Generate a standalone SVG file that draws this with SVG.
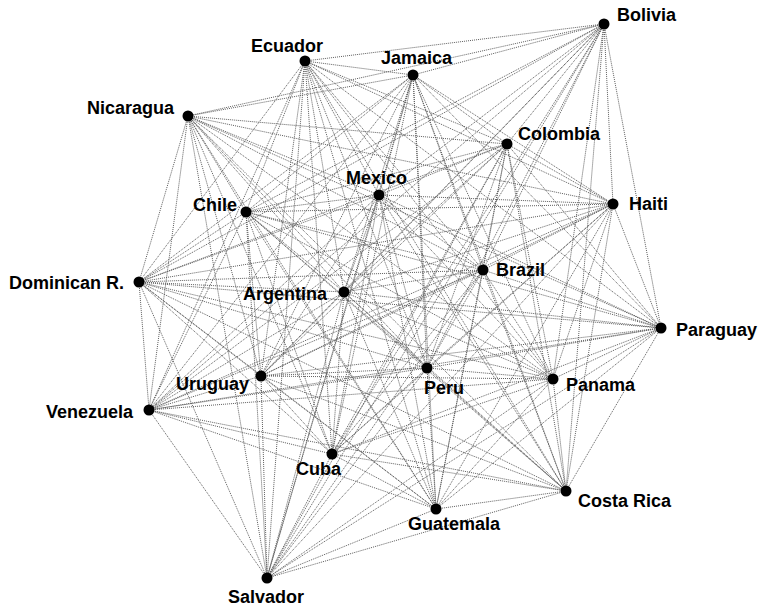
<svg xmlns="http://www.w3.org/2000/svg" width="760" height="608" viewBox="0 0 760 608">
<style>
.e{stroke:#5e5e5e;stroke-width:1;stroke-dasharray:1 1;fill:none}
.n{fill:#000}
.t{font-family:"Liberation Sans",Arial,sans-serif;font-weight:bold;font-size:18px;fill:#000}
</style>
<rect width="760" height="608" fill="#fff"/>
<g id="connectors">
<line class="e" x1="604" y1="24" x2="305" y2="61"/>
<line class="e" x1="604" y1="24" x2="413" y2="75"/>
<line class="e" x1="604" y1="24" x2="188" y2="116"/>
<line class="e" x1="604" y1="24" x2="507" y2="144"/>
<line class="e" x1="604" y1="24" x2="379" y2="195"/>
<line class="e" x1="604" y1="24" x2="613" y2="204"/>
<line class="e" x1="604" y1="24" x2="246" y2="212"/>
<line class="e" x1="604" y1="24" x2="483" y2="270"/>
<line class="e" x1="604" y1="24" x2="139" y2="282"/>
<line class="e" x1="604" y1="24" x2="344" y2="292"/>
<line class="e" x1="604" y1="24" x2="661" y2="328"/>
<line class="e" x1="604" y1="24" x2="261" y2="376"/>
<line class="e" x1="604" y1="24" x2="427" y2="368"/>
<line class="e" x1="604" y1="24" x2="553" y2="379"/>
<line class="e" x1="604" y1="24" x2="149" y2="410"/>
<line class="e" x1="604" y1="24" x2="332" y2="454"/>
<line class="e" x1="604" y1="24" x2="566" y2="491"/>
<line class="e" x1="604" y1="24" x2="267" y2="578"/>
<line class="e" x1="305" y1="61" x2="413" y2="75"/>
<line class="e" x1="305" y1="61" x2="507" y2="144"/>
<line class="e" x1="305" y1="61" x2="379" y2="195"/>
<line class="e" x1="305" y1="61" x2="613" y2="204"/>
<line class="e" x1="305" y1="61" x2="246" y2="212"/>
<line class="e" x1="305" y1="61" x2="483" y2="270"/>
<line class="e" x1="305" y1="61" x2="139" y2="282"/>
<line class="e" x1="305" y1="61" x2="344" y2="292"/>
<line class="e" x1="305" y1="61" x2="661" y2="328"/>
<line class="e" x1="305" y1="61" x2="261" y2="376"/>
<line class="e" x1="305" y1="61" x2="427" y2="368"/>
<line class="e" x1="305" y1="61" x2="553" y2="379"/>
<line class="e" x1="305" y1="61" x2="149" y2="410"/>
<line class="e" x1="305" y1="61" x2="332" y2="454"/>
<line class="e" x1="305" y1="61" x2="566" y2="491"/>
<line class="e" x1="305" y1="61" x2="436" y2="509"/>
<line class="e" x1="305" y1="61" x2="267" y2="578"/>
<line class="e" x1="413" y1="75" x2="188" y2="116"/>
<line class="e" x1="413" y1="75" x2="507" y2="144"/>
<line class="e" x1="413" y1="75" x2="379" y2="195"/>
<line class="e" x1="413" y1="75" x2="613" y2="204"/>
<line class="e" x1="413" y1="75" x2="246" y2="212"/>
<line class="e" x1="413" y1="75" x2="483" y2="270"/>
<line class="e" x1="413" y1="75" x2="139" y2="282"/>
<line class="e" x1="413" y1="75" x2="344" y2="292"/>
<line class="e" x1="413" y1="75" x2="661" y2="328"/>
<line class="e" x1="413" y1="75" x2="261" y2="376"/>
<line class="e" x1="413" y1="75" x2="427" y2="368"/>
<line class="e" x1="413" y1="75" x2="553" y2="379"/>
<line class="e" x1="413" y1="75" x2="149" y2="410"/>
<line class="e" x1="413" y1="75" x2="332" y2="454"/>
<line class="e" x1="413" y1="75" x2="566" y2="491"/>
<line class="e" x1="413" y1="75" x2="436" y2="509"/>
<line class="e" x1="413" y1="75" x2="267" y2="578"/>
<line class="e" x1="188" y1="116" x2="507" y2="144"/>
<line class="e" x1="188" y1="116" x2="379" y2="195"/>
<line class="e" x1="188" y1="116" x2="613" y2="204"/>
<line class="e" x1="188" y1="116" x2="246" y2="212"/>
<line class="e" x1="188" y1="116" x2="483" y2="270"/>
<line class="e" x1="188" y1="116" x2="139" y2="282"/>
<line class="e" x1="188" y1="116" x2="344" y2="292"/>
<line class="e" x1="188" y1="116" x2="661" y2="328"/>
<line class="e" x1="188" y1="116" x2="261" y2="376"/>
<line class="e" x1="188" y1="116" x2="427" y2="368"/>
<line class="e" x1="188" y1="116" x2="553" y2="379"/>
<line class="e" x1="188" y1="116" x2="149" y2="410"/>
<line class="e" x1="188" y1="116" x2="332" y2="454"/>
<line class="e" x1="188" y1="116" x2="566" y2="491"/>
<line class="e" x1="188" y1="116" x2="436" y2="509"/>
<line class="e" x1="188" y1="116" x2="267" y2="578"/>
<line class="e" x1="507" y1="144" x2="379" y2="195"/>
<line class="e" x1="507" y1="144" x2="613" y2="204"/>
<line class="e" x1="507" y1="144" x2="246" y2="212"/>
<line class="e" x1="507" y1="144" x2="483" y2="270"/>
<line class="e" x1="507" y1="144" x2="139" y2="282"/>
<line class="e" x1="507" y1="144" x2="344" y2="292"/>
<line class="e" x1="507" y1="144" x2="661" y2="328"/>
<line class="e" x1="507" y1="144" x2="261" y2="376"/>
<line class="e" x1="507" y1="144" x2="427" y2="368"/>
<line class="e" x1="507" y1="144" x2="553" y2="379"/>
<line class="e" x1="507" y1="144" x2="149" y2="410"/>
<line class="e" x1="507" y1="144" x2="332" y2="454"/>
<line class="e" x1="507" y1="144" x2="566" y2="491"/>
<line class="e" x1="507" y1="144" x2="436" y2="509"/>
<line class="e" x1="507" y1="144" x2="267" y2="578"/>
<line class="e" x1="379" y1="195" x2="613" y2="204"/>
<line class="e" x1="379" y1="195" x2="246" y2="212"/>
<line class="e" x1="379" y1="195" x2="483" y2="270"/>
<line class="e" x1="379" y1="195" x2="139" y2="282"/>
<line class="e" x1="379" y1="195" x2="344" y2="292"/>
<line class="e" x1="379" y1="195" x2="661" y2="328"/>
<line class="e" x1="379" y1="195" x2="261" y2="376"/>
<line class="e" x1="379" y1="195" x2="427" y2="368"/>
<line class="e" x1="379" y1="195" x2="553" y2="379"/>
<line class="e" x1="379" y1="195" x2="149" y2="410"/>
<line class="e" x1="379" y1="195" x2="332" y2="454"/>
<line class="e" x1="379" y1="195" x2="566" y2="491"/>
<line class="e" x1="379" y1="195" x2="436" y2="509"/>
<line class="e" x1="379" y1="195" x2="267" y2="578"/>
<line class="e" x1="613" y1="204" x2="246" y2="212"/>
<line class="e" x1="613" y1="204" x2="483" y2="270"/>
<line class="e" x1="613" y1="204" x2="139" y2="282"/>
<line class="e" x1="613" y1="204" x2="344" y2="292"/>
<line class="e" x1="613" y1="204" x2="661" y2="328"/>
<line class="e" x1="613" y1="204" x2="261" y2="376"/>
<line class="e" x1="613" y1="204" x2="427" y2="368"/>
<line class="e" x1="613" y1="204" x2="553" y2="379"/>
<line class="e" x1="613" y1="204" x2="149" y2="410"/>
<line class="e" x1="613" y1="204" x2="332" y2="454"/>
<line class="e" x1="613" y1="204" x2="566" y2="491"/>
<line class="e" x1="613" y1="204" x2="436" y2="509"/>
<line class="e" x1="613" y1="204" x2="267" y2="578"/>
<line class="e" x1="246" y1="212" x2="483" y2="270"/>
<line class="e" x1="246" y1="212" x2="139" y2="282"/>
<line class="e" x1="246" y1="212" x2="344" y2="292"/>
<line class="e" x1="246" y1="212" x2="661" y2="328"/>
<line class="e" x1="246" y1="212" x2="261" y2="376"/>
<line class="e" x1="246" y1="212" x2="427" y2="368"/>
<line class="e" x1="246" y1="212" x2="553" y2="379"/>
<line class="e" x1="246" y1="212" x2="149" y2="410"/>
<line class="e" x1="246" y1="212" x2="332" y2="454"/>
<line class="e" x1="246" y1="212" x2="566" y2="491"/>
<line class="e" x1="246" y1="212" x2="436" y2="509"/>
<line class="e" x1="246" y1="212" x2="267" y2="578"/>
<line class="e" x1="483" y1="270" x2="139" y2="282"/>
<line class="e" x1="483" y1="270" x2="344" y2="292"/>
<line class="e" x1="483" y1="270" x2="661" y2="328"/>
<line class="e" x1="483" y1="270" x2="261" y2="376"/>
<line class="e" x1="483" y1="270" x2="427" y2="368"/>
<line class="e" x1="483" y1="270" x2="553" y2="379"/>
<line class="e" x1="483" y1="270" x2="149" y2="410"/>
<line class="e" x1="483" y1="270" x2="332" y2="454"/>
<line class="e" x1="483" y1="270" x2="566" y2="491"/>
<line class="e" x1="483" y1="270" x2="436" y2="509"/>
<line class="e" x1="483" y1="270" x2="267" y2="578"/>
<line class="e" x1="139" y1="282" x2="344" y2="292"/>
<line class="e" x1="139" y1="282" x2="661" y2="328"/>
<line class="e" x1="139" y1="282" x2="261" y2="376"/>
<line class="e" x1="139" y1="282" x2="427" y2="368"/>
<line class="e" x1="139" y1="282" x2="553" y2="379"/>
<line class="e" x1="139" y1="282" x2="149" y2="410"/>
<line class="e" x1="139" y1="282" x2="332" y2="454"/>
<line class="e" x1="139" y1="282" x2="566" y2="491"/>
<line class="e" x1="139" y1="282" x2="436" y2="509"/>
<line class="e" x1="139" y1="282" x2="267" y2="578"/>
<line class="e" x1="344" y1="292" x2="661" y2="328"/>
<line class="e" x1="344" y1="292" x2="261" y2="376"/>
<line class="e" x1="344" y1="292" x2="427" y2="368"/>
<line class="e" x1="344" y1="292" x2="553" y2="379"/>
<line class="e" x1="344" y1="292" x2="149" y2="410"/>
<line class="e" x1="344" y1="292" x2="332" y2="454"/>
<line class="e" x1="344" y1="292" x2="566" y2="491"/>
<line class="e" x1="344" y1="292" x2="436" y2="509"/>
<line class="e" x1="344" y1="292" x2="267" y2="578"/>
<line class="e" x1="661" y1="328" x2="261" y2="376"/>
<line class="e" x1="661" y1="328" x2="427" y2="368"/>
<line class="e" x1="661" y1="328" x2="553" y2="379"/>
<line class="e" x1="661" y1="328" x2="149" y2="410"/>
<line class="e" x1="661" y1="328" x2="332" y2="454"/>
<line class="e" x1="661" y1="328" x2="566" y2="491"/>
<line class="e" x1="661" y1="328" x2="436" y2="509"/>
<line class="e" x1="661" y1="328" x2="267" y2="578"/>
<line class="e" x1="261" y1="376" x2="427" y2="368"/>
<line class="e" x1="261" y1="376" x2="553" y2="379"/>
<line class="e" x1="261" y1="376" x2="149" y2="410"/>
<line class="e" x1="261" y1="376" x2="332" y2="454"/>
<line class="e" x1="261" y1="376" x2="566" y2="491"/>
<line class="e" x1="261" y1="376" x2="436" y2="509"/>
<line class="e" x1="261" y1="376" x2="267" y2="578"/>
<line class="e" x1="427" y1="368" x2="553" y2="379"/>
<line class="e" x1="427" y1="368" x2="149" y2="410"/>
<line class="e" x1="427" y1="368" x2="332" y2="454"/>
<line class="e" x1="427" y1="368" x2="566" y2="491"/>
<line class="e" x1="427" y1="368" x2="436" y2="509"/>
<line class="e" x1="427" y1="368" x2="267" y2="578"/>
<line class="e" x1="553" y1="379" x2="149" y2="410"/>
<line class="e" x1="553" y1="379" x2="332" y2="454"/>
<line class="e" x1="553" y1="379" x2="566" y2="491"/>
<line class="e" x1="553" y1="379" x2="436" y2="509"/>
<line class="e" x1="553" y1="379" x2="267" y2="578"/>
<line class="e" x1="149" y1="410" x2="332" y2="454"/>
<line class="e" x1="149" y1="410" x2="566" y2="491"/>
<line class="e" x1="149" y1="410" x2="436" y2="509"/>
<line class="e" x1="149" y1="410" x2="267" y2="578"/>
<line class="e" x1="332" y1="454" x2="566" y2="491"/>
<line class="e" x1="332" y1="454" x2="436" y2="509"/>
<line class="e" x1="332" y1="454" x2="267" y2="578"/>
<line class="e" x1="566" y1="491" x2="436" y2="509"/>
<line class="e" x1="566" y1="491" x2="267" y2="578"/>
<line class="e" x1="436" y1="509" x2="267" y2="578"/>
</g>
<g id="bolivia"><circle class="n" cx="604" cy="24" r="5.5"/><text class="t" x="617" y="21">Bolivia</text></g>
<g id="ecuador"><circle class="n" cx="305" cy="61" r="5.5"/><text class="t" x="251" y="52">Ecuador</text></g>
<g id="jamaica"><circle class="n" cx="413" cy="75" r="5.5"/><text class="t" x="381" y="64">Jamaica</text></g>
<g id="nicaragua"><circle class="n" cx="188" cy="116" r="5.5"/><text class="t" x="87" y="114">Nicaragua</text></g>
<g id="colombia"><circle class="n" cx="507" cy="144" r="5.5"/><text class="t" x="518" y="140">Colombia</text></g>
<g id="mexico"><circle class="n" cx="379" cy="195" r="5.5"/><text class="t" x="346" y="184">Mexico</text></g>
<g id="haiti"><circle class="n" cx="613" cy="204" r="5.5"/><text class="t" x="629" y="210">Haiti</text></g>
<g id="chile"><circle class="n" cx="246" cy="212" r="5.5"/><text class="t" x="193" y="211">Chile</text></g>
<g id="brazil"><circle class="n" cx="483" cy="270" r="5.5"/><text class="t" x="496" y="276">Brazil</text></g>
<g id="dominican"><circle class="n" cx="139" cy="282" r="5.5"/><text class="t" x="9" y="289">Dominican R.</text></g>
<g id="argentina"><circle class="n" cx="344" cy="292" r="5.5"/><text class="t" x="243" y="300">Argentina</text></g>
<g id="paraguay"><circle class="n" cx="661" cy="328" r="5.5"/><text class="t" x="676" y="336">Paraguay</text></g>
<g id="uruguay"><circle class="n" cx="261" cy="376" r="5.5"/><text class="t" x="176" y="390">Uruguay</text></g>
<g id="peru"><circle class="n" cx="427" cy="368" r="5.5"/><text class="t" x="424" y="394">Peru</text></g>
<g id="panama"><circle class="n" cx="553" cy="379" r="5.5"/><text class="t" x="566" y="391">Panama</text></g>
<g id="venezuela"><circle class="n" cx="149" cy="410" r="5.5"/><text class="t" x="46" y="418">Venezuela</text></g>
<g id="cuba"><circle class="n" cx="332" cy="454" r="5.5"/><text class="t" x="296" y="475">Cuba</text></g>
<g id="costarica"><circle class="n" cx="566" cy="491" r="5.5"/><text class="t" x="578" y="507">Costa Rica</text></g>
<g id="guatemala"><circle class="n" cx="436" cy="509" r="5.5"/><text class="t" x="408" y="530">Guatemala</text></g>
<g id="salvador"><circle class="n" cx="267" cy="578" r="5.5"/><text class="t" x="228" y="603">Salvador</text></g>
</svg>
